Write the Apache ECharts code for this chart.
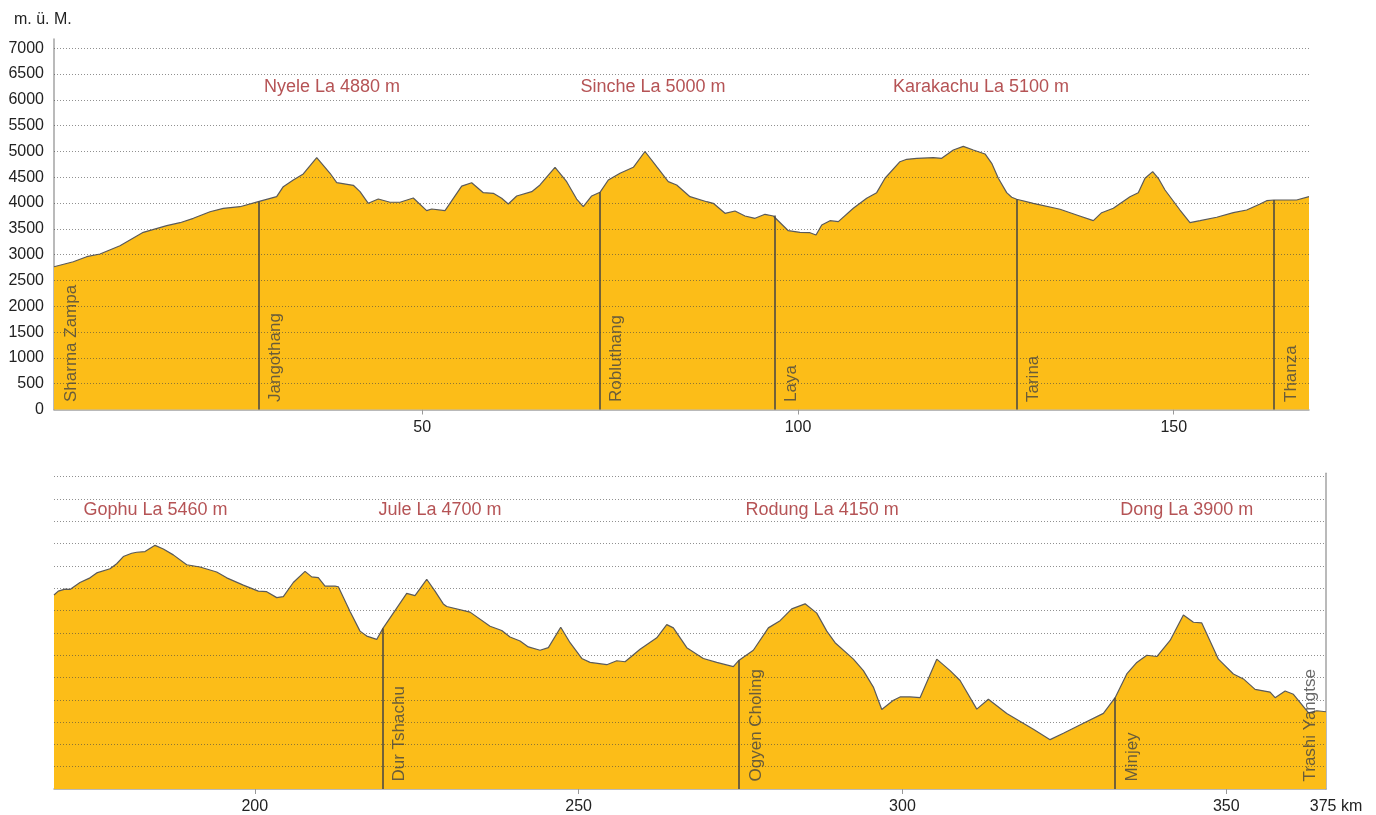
<!DOCTYPE html>
<html><head><meta charset="utf-8">
<script src="https://cdn.jsdelivr.net/npm/echarts@6/dist/echarts.min.js"></script>
<style>html,body{margin:0;padding:0;background:#fff}#c{width:1376px;height:815px}</style>
</head><body><div id="c"></div>
<script>
// ---------- data ----------
const topKm = [1, 3.57, 5.35, 7.12, 9.78, 12.88, 16.0, 17.77, 19.54, 21.76, 23.53, 25.75, 28.19, 30.63, 31.51, 32.84, 34.17, 35.96, 37.73, 38.62, 40.83, 41.72, 42.82, 44.15, 45.71, 47.04, 48.81, 50.59, 51.26, 53.03, 55.25, 56.58, 58.13, 59.46, 60.57, 61.45, 62.57, 64.57, 65.67, 67.67, 69.22, 70.55, 71.43, 72.55, 73.65, 74.76, 76.32, 78.09, 79.64, 81.2, 82.74, 83.86, 85.63, 87.85, 88.73, 90.29, 91.62, 92.95, 94.28, 95.61, 96.72, 98.71, 100.27, 101.6, 102.4, 103.16, 104.26, 105.37, 107.36, 109.14, 110.47, 111.58, 113.57, 114.47, 115.8, 118.0, 119.12, 120.67, 122.0, 123.33, 124.89, 125.78, 126.66, 127.77, 128.44, 129.1, 131.31, 134.87, 137.09, 139.3, 140.41, 141.96, 144.18, 145.28, 146.18, 147.2, 147.95, 148.84, 150.83, 152.16, 153.5, 155.72, 157.93, 159.71, 161.48, 162.37, 163.34, 166.36, 168];
const topElev = [2767, 2864, 2961, 3014, 3174, 3434, 3562, 3620, 3705, 3833, 3899, 3930, 4027, 4124, 4318, 4448, 4564, 4880, 4578, 4395, 4345, 4221, 3996, 4079, 4016, 4016, 4099, 3853, 3886, 3853, 4330, 4395, 4202, 4190, 4093, 3983, 4138, 4221, 4351, 4694, 4415, 4079, 3930, 4138, 4209, 4448, 4578, 4694, 5000, 4705, 4415, 4351, 4124, 4027, 3996, 3802, 3847, 3750, 3705, 3783, 3750, 3465, 3434, 3426, 3382, 3576, 3659, 3640, 3899, 4093, 4202, 4481, 4802, 4849, 4868, 4880, 4868, 5029, 5100, 5029, 4952, 4771, 4481, 4202, 4112, 4074, 3996, 3880, 3769, 3659, 3814, 3899, 4124, 4202, 4481, 4609, 4481, 4254, 3866, 3620, 3659, 3725, 3814, 3866, 3983, 4047, 4060, 4060, 4124];

const bottomKm = [169, 169.66, 170.70, 171.47, 173.01, 174.56, 175.59, 177.65, 178.68, 179.7, 181.0, 181.77, 183.05, 184.6, 185.88, 187.42, 189.49, 191.54, 194.12, 195.67, 198.23, 200.55, 201.84, 203.39, 204.41, 205.95, 207.76, 208.79, 209.81, 210.85, 212.39, 212.9, 214.71, 216.25, 217.29, 218.83, 219.76, 221.39, 223.46, 224.74, 226.55, 227.83, 229.11, 229.64, 233.24, 236.33, 238.13, 239.41, 240.96, 242.24, 244.05, 245.33, 247.24, 248.68, 250.49, 251.77, 254.35, 255.89, 257.17, 259.49, 262.07, 263.61, 264.63, 266.7, 269.26, 271.33, 273.89, 274.78, 276.98, 279.3, 281.11, 282.91, 284.97, 286.77, 288.32, 289.6, 292.43, 293.97, 295.51, 296.81, 298.6, 299.64, 301.18, 302.72, 305.3, 307.36, 308.9, 311.48, 313.27, 316.11, 320.22, 322.8, 324.85, 327.94, 331.03, 332.84, 334.64, 336.19, 337.73, 339.28, 341.33, 343.38, 344.93, 346.22, 348.79, 351.1, 352.65, 354.45, 356.77, 357.54, 359.09, 360.37, 362.68, 363.98, 365.4];
const bottomElev = [4347, 4435, 4480, 4473, 4628, 4732, 4842, 4937, 5048, 5209, 5284, 5306, 5320, 5460, 5379, 5247, 5026, 4975, 4864, 4732, 4568, 4435, 4422, 4289, 4311, 4628, 4877, 4754, 4738, 4546, 4546, 4533, 3980, 3538, 3427, 3352, 3595, 3942, 4384, 4334, 4700, 4435, 4148, 4090, 3964, 3648, 3551, 3405, 3317, 3184, 3109, 3168, 3626, 3279, 2925, 2837, 2786, 2874, 2852, 3131, 3389, 3684, 3611, 3168, 2925, 2837, 2742, 2888, 3109, 3611, 3772, 4037, 4150, 3942, 3538, 3279, 2910, 2653, 2284, 1782, 1990, 2063, 2063, 2047, 2910, 2653, 2432, 1791, 2012, 1694, 1340, 1106, 1251, 1473, 1694, 2047, 2578, 2837, 2998, 2969, 3330, 3900, 3737, 3721, 2910, 2578, 2467, 2233, 2173, 2047, 2196, 2123, 1709, 1753, 1731];

const topVillages = ['Sharma Zampa', 'Jangothang', 'Robluthang', 'Laya', 'Tarina', 'Thanza'];
const topVillageKm = [1, 28.19, 73.56, 96.85, 129.05, 163.34];
const topVillageElev = [2767, 4027, 4209, 3760, 4074, 4060];

const bottomVillages = ['Dur Tshachu', 'Ogyen Choling', 'Minjey', 'Trashi Yangtse'];
const bottomVillageKm = [219.76, 274.78, 332.84, 365.4];
const bottomVillageElev = [3595, 2888, 2047, 1731];

const topPasses = ['Nyele La 4880 m', 'Sinche La 5000 m', 'Karakachu La 5100 m'];
const topPassKm = [38.0, 80.7, 124.35];
const bottomPasses = ['Gophu La 5460 m', 'Jule La 4700 m', 'Rodung La 4150 m', 'Dong La 3900 m'];
const bottomPassKm = [184.67, 228.6, 287.6, 343.9];

const yTicks = [0, 500, 1000, 1500, 2000, 2500, 3000, 3500, 4000, 4500, 5000, 5500, 6000, 6500, 7000];
const topXTicks = [50, 100, 150];
const bottomXTicks = [200, 250, 300, 350];
const endLabel = '375 km';
const yTitle = 'm. ü. M.';

// ---------- layout ----------
const FONT = '"Liberation Sans", Arial, Helvetica, sans-serif';
const TOP = { min: 1, max: 168, ymax: 7180 };
const BOT = { min: 169, max: 365.4, ymax: 7075 };
const LABEL_ALT = 6250;

function profileSeries(idx, km, elev, vKm, vElev, range) {
  const grid = yTicks.filter(v => v > 0).map(v => ({
    yAxis: v,
    lineStyle: { type: [1, 2], color: 'rgba(70,70,70,0.6)', width: 1 }
  }));
  const vl = [];
  vKm.forEach((k, i) => {
    if (k > range.min + 0.01 && k < range.max - 0.01) {
      const ls = { type: 'solid', color: '#444', width: 1.5 };
      vl.push([{ coord: [k, 0], lineStyle: ls }, { coord: [k, vElev[i]], lineStyle: ls }]);
    }
  });
  return {
    type: 'line', xAxisIndex: idx, yAxisIndex: idx,
    data: km.map((k, i) => [k, elev[i]]),
    symbol: 'none', smooth: false, silent: true, animation: false,
    lineStyle: { color: '#5a5a5a', width: 1.2 },
    areaStyle: { color: '#FCBD18', opacity: 1 },
    markLine: {
      silent: true, animation: false, symbol: ['none', 'none'],
      label: { show: false },
      emphasis: { disabled: true },
      data: grid.concat(vl)
    }
  };
}

function passSeries(idx, names, kms) {
  return {
    type: 'scatter', xAxisIndex: idx, yAxisIndex: idx, z: 10,
    symbolSize: 1, silent: true, animation: false,
    itemStyle: { color: 'rgba(0,0,0,0)' },
    data: names.map((n, i) => ({ name: n, value: [kms[i], LABEL_ALT] })),
    label: { show: true, position: 'inside', formatter: '{b}', color: '#a2282a', fontSize: 18, fontFamily: FONT }
  };
}

function villageSeries(idx, names, kms, range) {
  return {
    type: 'scatter', xAxisIndex: idx, yAxisIndex: idx, z: 10,
    symbolSize: 1, silent: true, animation: false,
    itemStyle: { color: 'rgba(0,0,0,0)' },
    data: names.map((n, i) => {
      const item = { name: n, value: [kms[i], 0] };
      if (kms[i] >= range.max - 0.01) item.label = { position: [-24, -7] };
      return item;
    }),
    label: {
      show: true, formatter: '{b}', rotate: 90, position: [9, -7],
      align: 'left', verticalAlign: 'top',
      color: '#444', fontSize: 17, fontFamily: FONT
    }
  };
}

const axisLineStyle = { color: '#a3a3a3', width: 1.5 };

const option = {
  backgroundColor: '#fff',
  animation: false,
  title: { text: yTitle, left: 9, top: 7, textStyle: { fontSize: 16, fontWeight: 'normal', color: '#222', fontFamily: FONT } },
  grid: [
    { left: 54, right: 67, top: 39, height: 370.5 },
    { left: 54, right: 50, top: 473.3, height: 320 }
  ],
  xAxis: [
    {
      gridIndex: 0, type: 'value', min: TOP.min, max: TOP.max,
      splitLine: { show: false },
      axisLine: { show: true, onZero: false, lineStyle: axisLineStyle },
      axisTick: { show: true, customValues: topXTicks, length: 5, lineStyle: { color: '#999' } },
      axisLabel: { customValues: topXTicks, color: '#222', fontSize: 16, margin: 10, fontFamily: FONT, formatter: v => String(v) }
    },
    {
      gridIndex: 1, type: 'value', min: BOT.min, max: BOT.max,
      splitLine: { show: false },
      axisLine: { show: true, onZero: false, lineStyle: axisLineStyle },
      axisTick: { show: true, customValues: bottomXTicks, length: 5, lineStyle: { color: '#999' } },
      axisLabel: {
        customValues: bottomXTicks.concat([BOT.max]), color: '#222', fontSize: 16, margin: 10, fontFamily: FONT,
        formatter: v => (v >= BOT.max - 0.001 ? '{e|' + endLabel + '}' : String(v)),
        rich: { e: { padding: [0, 0, 0, 20], fontSize: 16, color: '#222', fontFamily: FONT } }
      }
    }
  ],
  yAxis: [
    {
      gridIndex: 0, type: 'value', min: 0, max: TOP.ymax, position: 'left',
      splitLine: { show: false },
      axisLine: { show: true, lineStyle: axisLineStyle },
      axisTick: { show: false },
      axisLabel: { customValues: yTicks, color: '#222', fontSize: 16, margin: 10, fontFamily: FONT, formatter: v => String(v) }
    },
    {
      gridIndex: 1, type: 'value', min: 0, max: BOT.ymax, position: 'right',
      splitLine: { show: false },
      axisLine: { show: true, lineStyle: axisLineStyle },
      axisTick: { show: false },
      axisLabel: { show: false }
    }
  ],
  series: [
    profileSeries(0, topKm, topElev, topVillageKm, topVillageElev, TOP),
    profileSeries(1, bottomKm, bottomElev, bottomVillageKm, bottomVillageElev, BOT),
    passSeries(0, topPasses, topPassKm),
    passSeries(1, bottomPasses, bottomPassKm),
    villageSeries(0, topVillages, topVillageKm, TOP),
    villageSeries(1, bottomVillages, bottomVillageKm, BOT)
  ]
};

const chart = echarts.init(document.getElementById('c'), null, { renderer: 'canvas' });
chart.setOption(option);
</script>
</body></html>
